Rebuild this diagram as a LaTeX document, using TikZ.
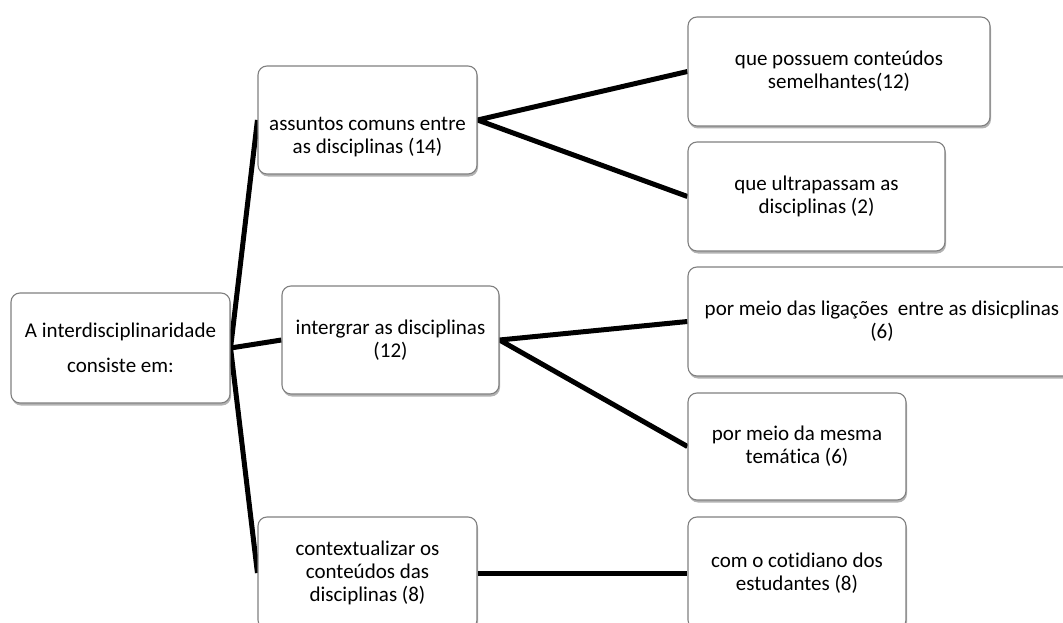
\documentclass[tikz,border=0pt]{standalone}
\usepackage{fontspec}
\setmainfont{Carlito}[Ligatures=NoCommon]
\usetikzlibrary{shadows,backgrounds}

\definecolor{edge1}{RGB}{128,128,128}
\tikzstyle{block} = [draw=edge1, rectangle, fill=white, align=center, line width=1.1pt, rounded corners=9pt, inner sep=0pt, drop shadow={shadow xshift=1pt, shadow yshift=-2.5pt, fill=black, opacity=0.3}, font=\fontsize{21}{23}\selectfont]
\tikzstyle{branch} = [draw, line width=5pt]

\begin{document}
\begin{tikzpicture}[x=1pt, y=-1pt]
	\useasboundingbox (0,0) rectangle (1063,623);

	\node [block, minimum width=219pt, minimum height=110pt, font=\fontsize{21}{35}\selectfont] (root) at (120.5,348) {A interdisciplinaridade\\consiste em:};

	% Level 1
	\node [block, minimum width=219pt, minimum height=108pt] (common) at (367.5,120) {\rule{0pt}{48pt}assuntos comuns entre\\as disciplinas (14)};
	\node [block, minimum width=217pt, minimum height=108pt] (integrate) at (390.5,340) {intergrar as disciplinas\\(12)};
	\node [block, minimum width=219pt, minimum height=112pt] (context) at (367.5,573) {contextualizar os\\conteúdos das\\disciplinas (8)};

	% Level 2
	\node [block, minimum width=302pt, minimum height=109pt] (similar) at (839,71.5) {que possuem conteúdos\\semelhantes(12)};
	\node [block, minimum width=257pt, minimum height=109pt] (beyond) at (816.5,196.5) {que ultrapassam as\\disciplinas (2)};
	\node [block, minimum width=388pt, minimum height=109pt] (links) at (882,321.5) {por meio das ligações\ \ entre as disicplinas\\(6)};
	\node [block, minimum width=218pt, minimum height=107pt] (theme) at (797,446.5) {por meio da mesma\\temática (6)};
	\node [block, minimum width=218pt, minimum height=112pt] (daily) at (797,573) {com o cotidiano dos\\estudantes (8)};

	\begin{scope}[on background layer]
		% Root
		\draw [branch] (common.west) -- (root.east) -- (context.west);
		\draw [branch] (root.east) -- (integrate.west);

		% Children
		\draw [branch] (similar.west) -- (common.east) -- (beyond.west);
		\draw [branch] (links.west) -- (integrate.east) -- (theme.west);
		\draw [branch] (context.east) -- (daily.west);
	\end{scope}
\end{tikzpicture}
\end{document}
